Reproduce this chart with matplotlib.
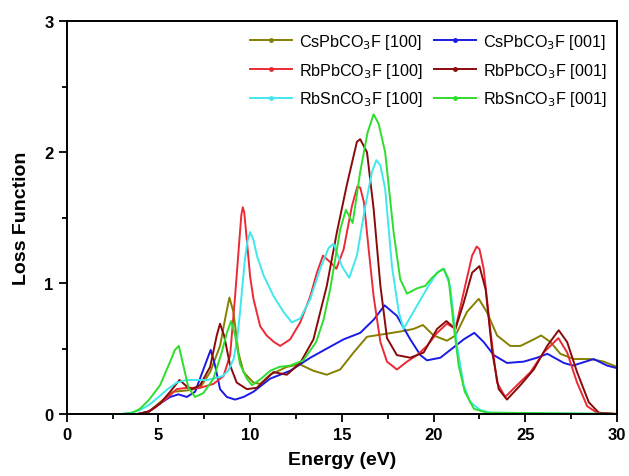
import numpy as np
import matplotlib.pyplot as plt
from matplotlib.lines import Line2D

plt.rcParams['font.family'] = ['Liberation Sans', 'DejaVu Sans']

#---------------------- electron energy loss spectra, read per compound/direction
labels = ['CsPbCO$_3$F [100]', 'CsPbCO$_3$F [001]',
          'RbPbCO$_3$F [100]', 'RbPbCO$_3$F [001]',
          'RbSnCO$_3$F [100]', 'RbSnCO$_3$F [001]']
colors = ['#858000', '#1a1ae6', '#ec2a36', '#8a0a0a', '#3fe8ee', '#2ede2e']

E_cs100 = [0, 3.9, 4.5, 5.09, 5.82, 6.55, 7.27, 7.82, 8.36, 8.64, 8.87, 9.09, 9.36, 9.64,
           10.18, 10.55, 11.09, 12.0, 12.7, 13.45, 14.18, 14.91, 15.64, 16.37, 17.28,
           18.18, 18.91, 19.42, 20.0, 20.73, 21.19, 21.82, 22.46, 22.9, 23.46, 24.18,
           24.73, 25.46, 25.86, 26.37, 26.91, 27.64, 28.55, 29.28, 30]
L_cs100 = [0, 0, 0.02, 0.09, 0.17, 0.18, 0.20, 0.32, 0.52, 0.73, 0.89, 0.78, 0.47, 0.32,
           0.24, 0.23, 0.30, 0.36, 0.38, 0.33, 0.30, 0.34, 0.47, 0.59, 0.61,
           0.63, 0.65, 0.68, 0.60, 0.56, 0.60, 0.78, 0.88, 0.78, 0.60, 0.52,
           0.52, 0.57, 0.60, 0.55, 0.46, 0.42, 0.42, 0.40, 0.36]

E_cs001 = [0, 3.9, 4.5, 5.09, 5.64, 6.09, 6.55, 7.0, 7.45, 7.85, 8.09, 8.36, 8.73, 9.18,
           9.64, 10.18, 11.09, 12.18, 13.28, 14.18, 15.09, 16.0, 16.73, 17.33, 18.0,
           18.73, 19.28, 19.64, 20.37, 21.1, 21.64, 22.22, 22.73, 23.28, 24.0, 24.91,
           25.64, 26.2, 27.1, 27.6, 28.73, 29.46, 30]
L_cs001 = [0, 0, 0.02, 0.08, 0.13, 0.15, 0.13, 0.17, 0.34, 0.49, 0.37, 0.19, 0.13, 0.11,
           0.13, 0.17, 0.27, 0.33, 0.43, 0.50, 0.57, 0.62, 0.72, 0.83, 0.75,
           0.57, 0.45, 0.41, 0.43, 0.51, 0.57, 0.62, 0.55, 0.45, 0.39, 0.40,
           0.43, 0.46, 0.39, 0.37, 0.42, 0.37, 0.35]

E_rbpb100 = [0, 3.8, 4.3, 4.73, 5.1, 5.45, 6.0, 6.55, 7.27, 8.0, 8.55, 8.91, 9.18, 9.42,
             9.52, 9.6, 9.68, 9.78, 10.0, 10.18, 10.55, 10.9, 11.3, 11.64, 12.18, 12.73,
             13.28, 13.64, 13.97, 14.37, 14.7, 15.1, 15.55, 15.85, 16.0, 16.2, 16.46,
             16.73, 17.1, 17.46, 18.0, 18.55, 19.1, 19.64, 20.19, 20.73, 21.19, 21.64,
             22.1, 22.35, 22.5, 22.73, 23.1, 23.46, 23.9, 24.55, 25.28, 26.0, 26.8,
             27.28, 27.82, 28.37, 28.9, 30]
L_rbpb100 = [0, 0, 0.01, 0.04, 0.08, 0.12, 0.19, 0.20, 0.20, 0.23, 0.29, 0.45, 0.90, 1.34,
             1.52, 1.58, 1.54, 1.39, 1.05, 0.88, 0.67, 0.60, 0.55, 0.52, 0.57, 0.70,
             0.90, 1.08, 1.21, 1.16, 1.11, 1.26, 1.59, 1.74, 1.73, 1.62, 1.26,
             0.90, 0.55, 0.40, 0.34, 0.40, 0.45, 0.52, 0.62, 0.69, 0.65, 0.93,
             1.21, 1.28, 1.26, 1.11, 0.63, 0.24, 0.13, 0.22, 0.32, 0.47, 0.58,
             0.47, 0.24, 0.06, 0.01, 0]

E_rbpb001 = [0, 3.9, 4.5, 5.09, 5.64, 6.15, 6.55, 6.82, 7.27, 7.82, 8.18, 8.36, 8.58, 8.91,
             9.27, 9.82, 10.36, 11.27, 12.0, 12.73, 13.45, 14.18, 14.73, 15.27, 15.82,
             16.0, 16.37, 16.73, 17.1, 17.46, 18.0, 18.73, 19.46, 20.19, 20.7, 21.19,
             21.64, 22.1, 22.5, 22.84, 23.2, 23.55, 24.0, 24.73, 25.46, 26.19, 26.82,
             27.28, 27.82, 28.46, 29.0, 30]
L_rbpb001 = [0, 0, 0.02, 0.08, 0.17, 0.26, 0.21, 0.19, 0.22, 0.36, 0.60, 0.69, 0.60, 0.37,
             0.24, 0.19, 0.20, 0.32, 0.30, 0.39, 0.57, 0.98, 1.39, 1.75, 2.08,
             2.10, 2.0, 1.57, 0.98, 0.58, 0.45, 0.43, 0.47, 0.65, 0.71, 0.65,
             0.85, 1.08, 1.13, 0.95, 0.47, 0.19, 0.11, 0.22, 0.34, 0.52, 0.64,
             0.55, 0.32, 0.09, 0.01, 0]

E_rbsn100 = [0, 3.0, 3.5, 4.0, 4.5, 5.09, 5.5, 6.0, 6.55, 7.1, 7.64, 8.0, 8.5, 8.8, 9.1,
             9.3, 9.45, 9.7, 9.85, 10.0, 10.18, 10.37, 10.73, 11.28, 11.82, 12.27, 12.73,
             13.28, 13.82, 14.28, 14.55, 15.0, 15.4, 15.82, 16.28, 16.64, 16.88, 17.1,
             17.36, 17.73, 18.1, 18.36, 18.9, 19.64, 20.19, 20.55, 20.9, 21.28, 21.64,
             22.0, 22.55, 23.1, 30]
L_rbsn100 = [0, 0, 0.01, 0.03, 0.07, 0.14, 0.19, 0.24, 0.26, 0.26, 0.26, 0.27, 0.29, 0.33, 0.42,
             0.58, 0.78, 1.16, 1.32, 1.39, 1.33, 1.21, 1.06, 0.90, 0.78, 0.70, 0.73,
             0.88, 1.11, 1.27, 1.30, 1.13, 1.04, 1.21, 1.59, 1.85, 1.94, 1.90,
             1.72, 1.13, 0.78, 0.65, 0.78, 0.96, 1.08, 1.11, 0.98, 0.52, 0.22,
             0.09, 0.03, 0.01, 0]

E_rbsn001 = [0, 3.0, 3.6, 4.0, 4.5, 5.09, 5.64, 5.9, 6.11, 6.36, 6.64, 7.0, 7.45, 8.0, 8.45,
             8.73, 8.96, 9.18, 9.45, 9.82, 10.1, 10.6, 11.09, 11.6, 12.18, 12.9, 13.6,
             14.0, 14.37, 14.91, 15.22, 15.59, 16.0, 16.4, 16.73, 17.0, 17.36, 17.82,
             18.18, 18.55, 19.1, 19.55, 19.91, 20.3, 20.55, 20.82, 21.1, 21.37, 21.7,
             22.2, 22.9, 30]
L_rbsn001 = [0, 0, 0.01, 0.04, 0.11, 0.22, 0.40, 0.49, 0.52, 0.37, 0.20, 0.13, 0.16, 0.27, 0.47,
             0.62, 0.71, 0.60, 0.38, 0.27, 0.22, 0.27, 0.33, 0.36, 0.37, 0.41, 0.55,
             0.72, 0.96, 1.41, 1.56, 1.46, 1.85, 2.15, 2.29, 2.22, 2.00, 1.39,
             1.03, 0.92, 0.96, 0.98, 1.04, 1.09, 1.11, 1.03, 0.67, 0.37, 0.17,
             0.04, 0.01, 0]

ENERGY = [E_cs100, E_cs001, E_rbpb100, E_rbpb001, E_rbsn100, E_rbsn001]
LOSS   = [L_cs100, L_cs001, L_rbpb100, L_rbpb001, L_rbsn100, L_rbsn001]

##------------------------PLOTTING
fig = plt.figure(figsize=(6.29, 4.77), dpi=100)
ax = fig.add_axes([0.106, 0.130, 0.875, 0.823])

for i in range(len(labels)):
    ax.plot(ENERGY[i], LOSS[i], color=colors[i], lw=1.4)

ax.set_xlim(0, 30)
ax.set_ylim(0, 3)
ax.set_xticks(np.arange(0, 31, 5))
ax.set_xticks(np.arange(0, 30.1, 2.5), minor=True)
ax.set_yticks([0, 1, 2, 3])
ax.set_yticks(np.arange(0, 3.01, 0.5), minor=True)

ax.tick_params(which='both', direction='out', top=False, right=False, width=1.3)
ax.tick_params(which='major', length=6, labelsize=12)
ax.tick_params(which='minor', length=3.5)
for lab in ax.get_xticklabels() + ax.get_yticklabels():
    lab.set_fontweight('bold')
for s in ax.spines.values():
    s.set_linewidth(1.4)

ax.set_xlabel('Energy (eV)', fontsize=14, fontweight='bold', labelpad=6)
ax.set_ylabel('Loss Function', fontsize=14, fontweight='bold', labelpad=10)

##legend with a small dot on each line, [100] in the left column, [001] in the right
order = [0, 2, 4, 1, 3, 5]
handles = [Line2D([], [], color=colors[k], lw=1.4, marker='o', markersize=2.5) for k in order]
ax.legend(handles, [labels[k] for k in order], ncol=2, loc='upper right', frameon=False,
          fontsize=11.6, handlelength=2.6, handletextpad=0.45, columnspacing=0.7,
          labelspacing=0.6, borderaxespad=0.25, numpoints=1)

plt.savefig('out.png', dpi=100)
